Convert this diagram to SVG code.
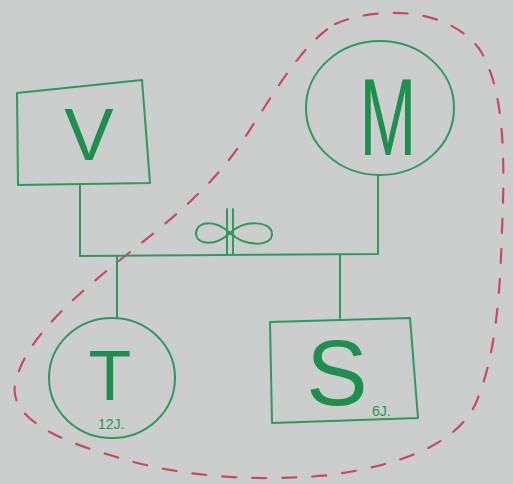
<svg xmlns="http://www.w3.org/2000/svg" width="513" height="484" viewBox="0 0 513 484">
  <style>
    .ink { fill: none; stroke: #2f9a5e; stroke-width: 2; stroke-linejoin: round; stroke-linecap: round; }
    .big { font-family: "Liberation Sans", Arial, sans-serif; fill: #1f8f50; text-anchor: middle; }
    .age { font-family: "Liberation Sans", Arial, sans-serif; fill: #2a9258; font-size: 14px; }
    .bond { fill: none; stroke: #c94a5c; stroke-width: 2.2; stroke-dasharray: 14 16; stroke-linecap: round; }
  </style>
  <rect width="513" height="484" fill="#cbcecc"/>

  <!-- household boundary -->
  <g id="boundary">
    <path class="bond" d="M 335 24 C 380 5 450 8 480 50 C 505 90 505 160 502 230 C 500 300 495 360 475 405 C 455 445 400 465 330 475 C 260 482 180 478 110 455 C 50 438 10 415 15 385 C 22 345 65 305 110 268 C 160 228 205 195 240 145 C 270 100 300 45 335 24 Z"/>
  </g>

  <!-- lines of descent -->
  <g id="connectors">
    <path class="ink" d="M 80 185 L 80 256 L 378 254 L 378 175"/>
    <path class="ink" d="M 117 256 L 117 318"/>
    <path class="ink" d="M 340 255 L 340 318"/>
    <!-- relationship mark on the partner line -->
    <path class="ink" d="M 227 209 L 227 254 M 233 209 L 233 254"/>
    <path class="ink" d="M 230 233 C 215 219 197 221 196 233 C 196 245 215 247 230 233 C 245 219 272 221 272 234 C 272 247 245 247 230 233 Z"/>
  </g>

  <g id="V">
    <path class="ink" d="M 17 93 L 142 80 L 150 183 L 18 185 Z"/>
    <text class="big" x="89" y="160" font-size="74">V</text>
  </g>

  <g id="M">
    <ellipse class="ink" cx="380" cy="108" rx="74" ry="67"/>
    <text class="big" x="388" y="155" font-size="110" transform="translate(388 155) scale(0.62 1) translate(-388 -155)">M</text>
  </g>

  <g id="T">
    <ellipse class="ink" cx="112" cy="378" rx="63" ry="60"/>
    <text class="big" x="110" y="400" font-size="70">T</text>
    <text class="age" x="98" y="429">12J.</text>
  </g>

  <g id="S">
    <path class="ink" d="M 270 322 L 410 318 L 418 418 L 272 423 Z"/>
    <text class="big" x="337" y="405" font-size="92">S</text>
    <text class="age" x="372" y="416">6J.</text>
  </g>
</svg>
